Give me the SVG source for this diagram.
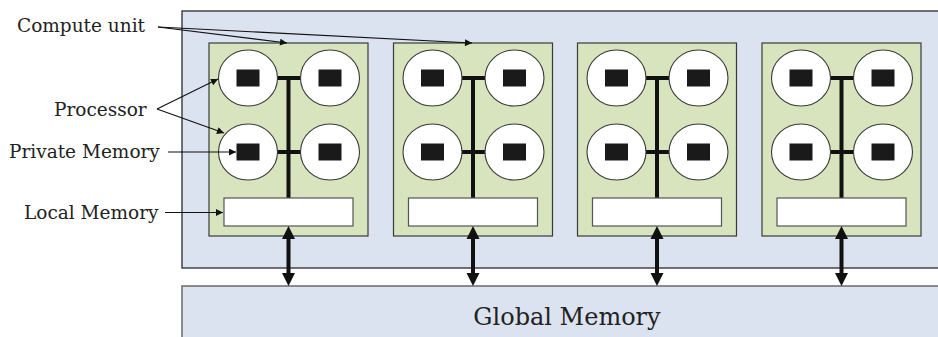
<svg xmlns="http://www.w3.org/2000/svg" width="938" height="337" viewBox="0 0 938 337">
<style>
.dev{fill:#dce3f0;stroke:#2a2a2a;stroke-width:1.3}
.gm{fill:#dce3f0;stroke:#6a6a6a;stroke-width:1.5}
.cu{fill:#d7e4bd;stroke:#3a3a3a;stroke-width:1.2}
.pe{fill:#ffffff;stroke:#3a3a3a;stroke-width:1.1}
.pm{fill:#1a1a1a}
.lm{fill:#ffffff;stroke:#555555;stroke-width:1.2}
.bus{stroke:#111111;stroke-width:4;fill:none}
.lbl{font-family:"DejaVu Serif","Liberation Serif",serif;font-size:18.5px;fill:#222222}
.big{font-family:"DejaVu Serif","Liberation Serif",serif;font-size:24px;fill:#222222}
.thin{stroke:#111111;stroke-width:1.1;fill:none;marker-end:url(#ah)}
.thick{stroke:#111111;stroke-width:4;fill:none}
.head{fill:#111111}
</style>
<defs>
<marker id="ah" viewBox="0 0 10 10" refX="10" refY="5" markerWidth="9" markerHeight="7" markerUnits="userSpaceOnUse" orient="auto">
<path d="M0,0 L10,5 L0,10 z" fill="#111111"/>
</marker>
<g id="cuShape">
<rect class="cu" x="0" y="0" width="159" height="193"/>
<path class="bus" d="M49,35 H93 M49,109 H93 M79.5,33 V155"/>
<ellipse class="pe" cx="39" cy="35" rx="29.5" ry="28"/>
<ellipse class="pe" cx="121" cy="35" rx="29.5" ry="28"/>
<ellipse class="pe" cx="39" cy="109" rx="29.5" ry="28"/>
<ellipse class="pe" cx="121" cy="109" rx="29.5" ry="28"/>
<rect class="pm" x="27.5" y="26.5" width="23" height="17"/>
<rect class="pm" x="109.5" y="26.5" width="23" height="17"/>
<rect class="pm" x="27.5" y="100.5" width="23" height="17"/>
<rect class="pm" x="109.5" y="100.5" width="23" height="17"/>
<rect class="lm" x="15" y="155" width="129" height="28"/>
</g>
<g id="bidi">
<path class="thick" d="M0,236 V276"/>
<path class="head" d="M0,226 L6.5,239 L-6.5,239 z"/>
<path class="head" d="M0,286 L6.5,273 L-6.5,273 z"/>
</g>
</defs>
<g id="device">
<rect class="dev" x="182" y="11" width="770" height="257"/>
</g>
<g id="global-memory">
<rect class="gm" x="182" y="286" width="770" height="60"/>
<text class="big" x="567" y="325" text-anchor="middle">Global Memory</text>
</g>
<g id="cu1"><use href="#cuShape" x="209" y="43"/></g>
<g id="cu2"><use href="#cuShape" x="393.5" y="43"/></g>
<g id="cu3"><use href="#cuShape" x="577.5" y="43"/></g>
<g id="cu4"><use href="#cuShape" x="762" y="43"/></g>
<g id="labels">
<text class="lbl" x="17" y="32">Compute unit</text>
<text class="lbl" x="54" y="116">Processor</text>
<text class="lbl" x="9" y="158">Private Memory</text>
<text class="lbl" x="24" y="219">Local Memory</text>
</g>
<g id="connectors">
<line class="thin" x1="158" y1="27" x2="287" y2="43"/>
<line class="thin" x1="158" y1="27" x2="472" y2="43"/>
<line class="thin" x1="157" y1="109" x2="218" y2="79"/>
<line class="thin" x1="157" y1="109" x2="224" y2="133"/>
<line class="thin" x1="168" y1="152" x2="236" y2="152"/>
<line class="thin" x1="165" y1="212.5" x2="223" y2="212.5"/>
<use href="#bidi" x="288.5" y="0"/>
<use href="#bidi" x="473" y="0"/>
<use href="#bidi" x="657" y="0"/>
<use href="#bidi" x="841.5" y="0"/>
</g>
</svg>
